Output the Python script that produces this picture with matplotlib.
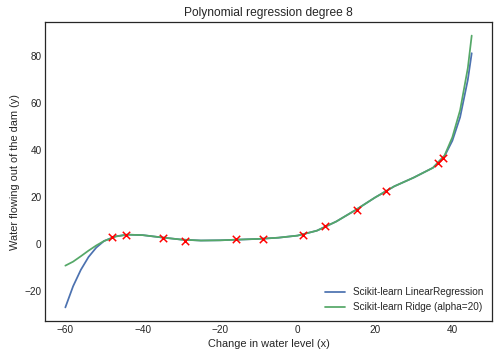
"""
Polynomial regression (degree 8) on the water level data.
"""

import matplotlib

matplotlib.use("Agg")
import matplotlib.pyplot as plt

# training data (red crosses)
x_train = [-15.94, -29.15, 36.19, 37.49, -48.06, -8.94, 15.31, -34.71, 1.39, -44.38, 7.01, 22.76]
y_train = [2.13, 1.17, 34.36, 36.84, 2.81, 2.12, 14.71, 2.61, 3.74, 3.73, 7.63, 22.75]

# fitted curves
x_fit = [-60, -58, -56, -54, -52, -50, -47, -44, -40, -35, -30, -25, -20, -15,
         -10, -5, 0, 5, 10, 15, 20, 25, 30, 35, 38, 40, 42, 44, 45]
y_linear = [-27.0, -18.0, -11.0, -5.5, -1.5, 1.3, 3.3, 4.0, 3.8, 2.8, 1.9, 1.5, 1.6, 1.9,
            2.2, 2.7, 3.6, 5.7, 9.6, 14.5, 19.8, 24.6, 28.3, 32.5, 37.5, 44.0, 54.0, 70.0, 81.3]
y_ridge = [-9.2, -7.5, -5.2, -2.8, -0.6, 1.3, 3.2, 4.0, 3.8, 2.8, 1.9, 1.5, 1.6, 1.9,
           2.2, 2.7, 3.6, 5.7, 9.6, 14.5, 19.8, 24.6, 28.3, 32.5, 37.8, 45.5, 57.0, 75.0, 88.8]

plt.style.use("seaborn-v0_8-white")
plt.rcParams["font.family"] = ["Liberation Sans", "DejaVu Sans"]
plt.rcParams["axes.labelsize"] = 11

fig, ax = plt.subplots(figsize=(498 / 72, 359 / 72), dpi=72)
fig.subplots_adjust(left=0.0904, right=0.988, top=0.9387, bottom=0.1058)

ax.scatter(x_train, y_train, marker="x", color="red", s=55, linewidths=1.5, zorder=3)
ax.plot(x_fit, y_linear, color="#4C72B0", lw=1.75, label="Scikit-learn LinearRegression")
ax.plot(x_fit, y_ridge, color="#55A868", lw=1.75, label="Scikit-learn Ridge (alpha=20)")

ax.set_title("Polynomial regression degree 8")
ax.set_xlabel("Change in water level (x)")
ax.set_ylabel("Water flowing out of the dam (y)")
ax.legend(loc="lower right")

fig.savefig("out.png", dpi=72)
